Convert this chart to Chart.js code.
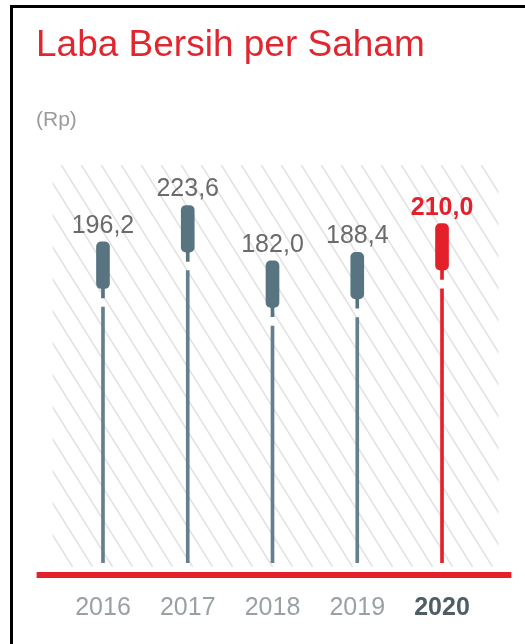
<!DOCTYPE html>
<html>
<head>
<meta charset="utf-8">
<script src="https://cdn.jsdelivr.net/npm/chart.js@4/dist/chart.umd.min.js"></script>
<style>
  body { margin: 0; background: #fff; }
  #frame {
    position: absolute; left: 10px; top: 5px; width: 515px; height: 639px;
    border-top: 3px solid #000; border-left: 3px solid #000;
  }
  #judul {
    position: absolute; left: 36px; top: 25px; margin: 0;
    font: 37px/37px "Liberation Sans", sans-serif; color: #e0262e; white-space: nowrap;
  }
  #satuan {
    position: absolute; left: 36px; top: 108px;
    font: 21px/21px "Liberation Sans", sans-serif; color: #9b9b9b;
  }
  canvas { position: absolute; left: 0; top: 0; }
</style>
</head>
<body>
<div id="frame"></div>
<canvas id="epsChart" width="525" height="644"></canvas>
<h1 id="judul">Laba Bersih per Saham</h1>
<div id="satuan">(Rp)</div>
<script>
// Data
const tahun = ["2016", "2017", "2018", "2019", "2020"]
const labaPerSaham = [196.2, 223.6, 182.0, 188.4, 210.0]

const Y_MIN = -45
const Y_MAX = 254
const KAPSUL = 35   // capsule height in value units
const TANGKAI = 7   // short stem under capsule
const CELAH = 7     // gap before the long line

const abu = "#587481"
const abuGaris = "#63808c"
const merah = "#e4212b"
const warnaBar = tahun.map((t, i) => (i === tahun.length - 1 ? merah : abu))
const warnaGaris = tahun.map((t, i) => (i === tahun.length - 1 ? merah : abuGaris))

function formatNilai(v) {
  return v.toFixed(1).replace(".", ",")
}

// hatch background + red baseline
const latar = {
  id: "latar",
  beforeDatasetsDraw(chart) {
    const { ctx, chartArea: ca } = chart
    const x0 = ca.left - 8, x1 = ca.right + 14
    const y0 = ca.top, y1 = ca.bottom + 4
    const h = y1 - y0
    const slope = 1.6
    ctx.save()
    ctx.beginPath()
    ctx.rect(x0, y0, x1 - x0, h)
    ctx.clip()
    ctx.strokeStyle = "#e2e2e2"
    ctx.lineWidth = 1.5
    for (let x = x0 - h / slope; x < x1; x += 20) {
      ctx.beginPath()
      ctx.moveTo(x, y0)
      ctx.lineTo(x + h / slope, y1)
      ctx.stroke()
    }
    ctx.restore()
  },
  afterDatasetsDraw(chart) {
    const { ctx, chartArea: ca } = chart
    ctx.save()
    ctx.fillStyle = merah
    ctx.fillRect(ca.left - 24, ca.bottom + 9, ca.right - ca.left + 51, 6)

    // value labels above capsules
    const meta = chart.getDatasetMeta(2)
    ctx.textAlign = "center"
    ctx.textBaseline = "alphabetic"
    meta.data.forEach((bar, i) => {
      const akhir = i === tahun.length - 1
      ctx.font = (akhir ? "bold " : "") + "25px 'Liberation Sans', sans-serif"
      ctx.fillStyle = akhir ? merah : "#6b6b6b"
      ctx.fillText(formatNilai(labaPerSaham[i]), bar.x, bar.y - 9)
    })
    ctx.restore()
  },
}

const ctx = document.getElementById("epsChart").getContext("2d")
const epsChart = new Chart(ctx, {
  type: "bar",
  data: {
    labels: tahun,
    datasets: [
      {
        label: "garis",
        data: labaPerSaham.map((v) => [Y_MIN, v - KAPSUL - TANGKAI - CELAH]),
        backgroundColor: warnaGaris,
        barThickness: 3,
        grouped: false,
      },
      {
        label: "tangkai",
        data: labaPerSaham.map((v) => [v - KAPSUL - TANGKAI, v - KAPSUL + 2]),
        backgroundColor: warnaBar,
        barThickness: 3,
        grouped: false,
      },
      {
        label: "kapsul",
        data: labaPerSaham.map((v) => [v - KAPSUL, v]),
        backgroundColor: warnaBar,
        barThickness: 13,
        borderRadius: 5,
        borderSkipped: false,
        grouped: false,
      },
    ],
  },
  options: {
    responsive: false,
    animation: false,
    layout: { padding: { left: 60.6, right: 40.6, top: 165, bottom: 21 } },
    plugins: { legend: { display: false }, tooltip: { enabled: false } },
    scales: {
      x: {
        grid: { display: false, drawTicks: false },
        border: { display: false },
        afterFit: (scale) => { scale.height = 60 },
        ticks: {
          padding: 30,
          font: (c) => ({
            family: "'Liberation Sans', sans-serif",
            size: 25,
            weight: c.index === tahun.length - 1 ? "bold" : "normal",
          }),
          color: (c) => (c.index === tahun.length - 1 ? "#4f5d66" : "#9aa1a5"),
        },
      },
      y: { display: false, min: Y_MIN, max: Y_MAX },
    },
  },
  plugins: [latar],
})
</script>
</body>
</html>
